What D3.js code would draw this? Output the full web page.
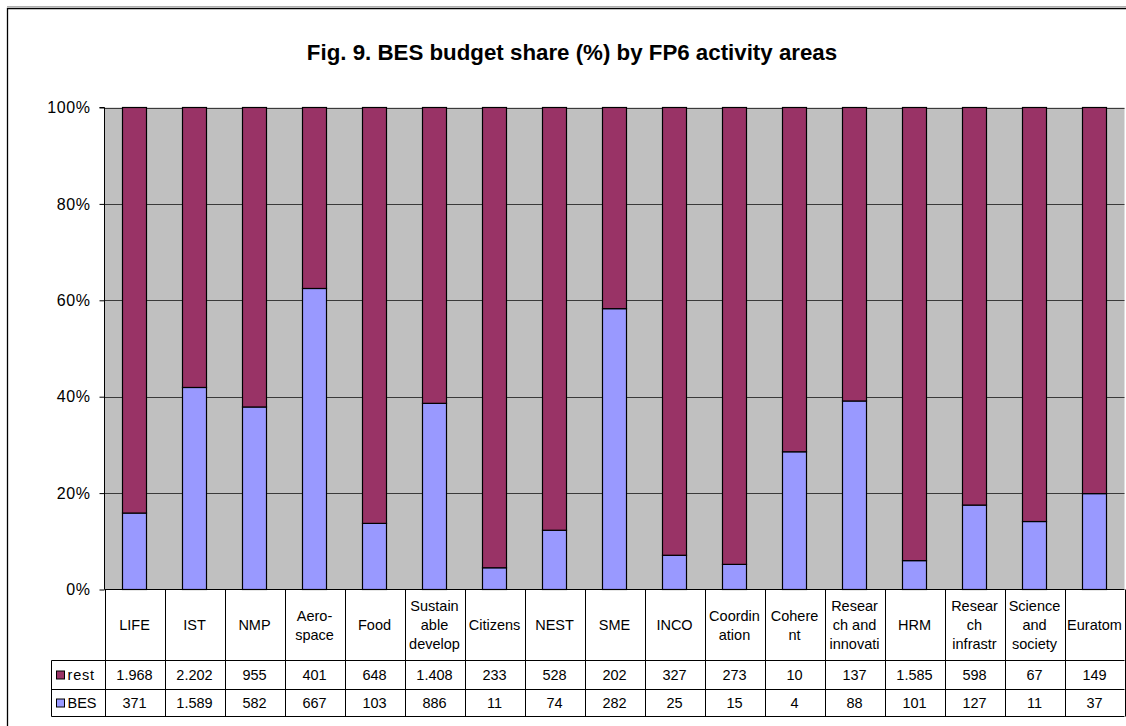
<!DOCTYPE html>
<html>
<head>
<meta charset="utf-8">
<script src="https://cdn.jsdelivr.net/npm/d3@7"></script>
<style>
  html, body { margin: 0; padding: 0; background: #fff; }
  svg { display: block; font-family: "Liberation Sans", Arial, sans-serif; }
</style>
</head>
<body>
<svg id="chart" width="1126" height="726"></svg>
<script>
const title = "Fig. 9. BES budget share (%) by FP6 activity areas";
const categories = ["LIFE", "IST", "NMP", "Aerospace", "Food", "Sustainable develop", "Citizens", "NEST", "SME", "INCO", "Coordination", "Coherent", "Research and innovati", "HRM", "Research infrastr", "Science and society", "Euratom"];
const categoryLines = [["LIFE"], ["IST"], ["NMP"], ["Aero-", "space"], ["Food"], ["Sustain", "able", "develop"], ["Citizens"], ["NEST"], ["SME"], ["INCO"], ["Coordin", "ation"], ["Cohere", "nt"], ["Resear", "ch and", "innovati"], ["HRM"], ["Resear", "ch", "infrastr"], ["Science", "and", "society"], ["Euratom"]];
const seriesNames = ["rest", "BES"];
const restValues = [1968, 2202, 955, 401, 648, 1408, 233, 528, 202, 327, 273, 10, 137, 1585, 598, 67, 149];
const besValues = [371, 1589, 582, 667, 103, 886, 11, 74, 282, 25, 15, 4, 88, 101, 127, 11, 37];
const yTicks = [0, 0.2, 0.4, 0.6, 0.8, 1.0];
const colors = { rest: "#993366", BES: "#9999FF" };

const svg = d3.select("#chart");

// layout
const plotL = 104.5, plotR = 1124.5, plotT = 107.5, plotB = 589.5;
const legL = 51.5;
const rowCatB = 660.5, rowRestB = 689.5, rowBesB = 716.5;

// outer frame
svg.append("line").attr("x1", 7).attr("x2", 1126).attr("y1", 6.5).attr("y2", 6.5)
  .attr("stroke", "#b0b0b0").attr("stroke-width", 1);
svg.append("path").attr("d", "M7.5,740 V8.5 H1130")
  .attr("fill", "none").attr("stroke", "#000").attr("stroke-width", 1.3);

// title
svg.append("text").attr("x", 572).attr("y", 60).attr("text-anchor", "middle")
  .attr("font-size", 22.3).attr("font-weight", "bold").attr("fill", "#000").text(title);

const data = categories.map((c, i) => ({ cat: c, rest: restValues[i], BES: besValues[i] }));

const x = d3.scaleBand().domain(categories).range([plotL, plotR]).paddingInner(0.6).paddingOuter(0.3);
const xb = d3.scaleBand().domain(categories).range([plotL, plotR]).padding(0);
const y = d3.scaleLinear().domain([0, 1]).range([plotB, plotT]);

// plot background
svg.append("rect").attr("x", plotL).attr("y", plotT).attr("width", plotR - plotL).attr("height", plotB - plotT)
  .attr("fill", "#C0C0C0");

// gridlines
svg.append("g").selectAll("line").data(yTicks.filter(t => t > 0)).join("line")
  .attr("x1", plotL).attr("x2", plotR)
  .attr("y1", d => Math.round(y(d)) + 0.5).attr("y2", d => Math.round(y(d)) + 0.5)
  .attr("stroke", "#3a3a3a").attr("stroke-width", 1);

// bars
const stack = d3.stack().keys(["BES", "rest"]).offset(d3.stackOffsetExpand);
const layers = stack(data);
svg.append("g").selectAll("g").data(layers).join("g")
  .attr("fill", d => colors[d.key])
  .selectAll("rect").data(d => d).join("rect")
  .attr("x", d => x(d.data.cat))
  .attr("width", x.bandwidth())
  .attr("y", d => y(d[1]))
  .attr("height", d => y(d[0]) - y(d[1]))
  .attr("stroke", "#000").attr("stroke-width", 1.2);

// y axis
const yAxis = d3.axisLeft(y).tickValues(yTicks).tickFormat(d3.format(".0%")).tickSize(5).tickPadding(9);
const ga = svg.append("g").attr("transform", `translate(${plotL},0)`).call(yAxis);
ga.select(".domain").attr("stroke", "#000").attr("d", `M-5,${plotT}H0V${plotB}`);
ga.selectAll(".tick line").attr("stroke", "#000");
ga.selectAll(".tick text").attr("font-size", 16).attr("fill", "#000")
  .attr("font-family", "'Liberation Sans', Arial, sans-serif").attr("letter-spacing", 0.6);

// x baseline
svg.append("line").attr("x1", plotL).attr("x2", plotR).attr("y1", plotB).attr("y2", plotB)
  .attr("stroke", "#000").attr("stroke-width", 1);

// data table
const tbl = svg.append("g").attr("stroke", "#000").attr("stroke-width", 1);
const bounds = categories.map(c => xb(c)).concat([plotR]);
tbl.selectAll("line.v").data(bounds).join("line").attr("class", "v")
  .attr("x1", d => Math.round(d) + 0.5).attr("x2", d => Math.round(d) + 0.5)
  .attr("y1", plotB).attr("y2", rowBesB);
[rowCatB, rowRestB, rowBesB].forEach(yy => {
  tbl.append("line").attr("x1", legL).attr("x2", plotR).attr("y1", yy).attr("y2", yy);
});
tbl.append("line").attr("x1", legL).attr("x2", legL).attr("y1", rowCatB).attr("y2", rowBesB);

const fs = 14.5;
// category labels
const lineH = 19;
const catCenter = (plotB + rowCatB) / 2;
const catG = svg.append("g").attr("font-size", fs).attr("fill", "#000").attr("text-anchor", "middle");
categories.forEach((c, i) => {
  const lines = categoryLines[i];
  const cx = xb(c) + xb.bandwidth() / 2;
  const t = catG.append("text");
  lines.forEach((ln, j) => {
    t.append("tspan").attr("x", cx)
      .attr("y", catCenter + (j - (lines.length - 1) / 2) * lineH + fs * 0.35)
      .text(ln);
  });
});

// value rows
const loc = d3.formatLocale({ decimal: ",", thousands: ".", grouping: [3], currency: ["", ""] });
const fmt = loc.format(",");
const rows = [
  { key: "rest", vals: restValues, top: rowCatB, bot: rowRestB },
  { key: "BES", vals: besValues, top: rowRestB, bot: rowBesB }
];
rows.forEach(r => {
  const cy = (r.top + r.bot) / 2 + fs * 0.35;
  svg.append("g").attr("font-size", fs).attr("fill", "#000").attr("text-anchor", "middle")
    .selectAll("text").data(r.vals).join("text")
    .attr("x", (d, i) => xb(categories[i]) + xb.bandwidth() / 2)
    .attr("y", cy)
    .text(d => fmt(d));
  svg.append("rect").attr("x", 56.5).attr("y", (r.top + r.bot) / 2 - 4).attr("width", 8).attr("height", 8)
    .attr("fill", colors[r.key]).attr("stroke", "#000").attr("stroke-width", 1);
  svg.append("text").attr("x", 67.5).attr("y", cy).attr("font-size", fs).attr("fill", "#000")
    .attr("letter-spacing", r.key === "rest" ? 0.8 : 0).text(r.key);
});
</script>
</body>
</html>
